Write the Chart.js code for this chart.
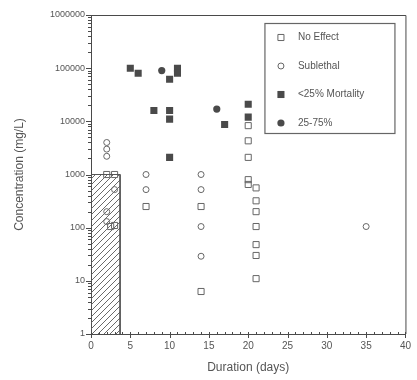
<!DOCTYPE html>
<html>
<head>
<meta charset="utf-8">
<script src="https://cdn.jsdelivr.net/npm/chart.js@4.4.0/dist/chart.umd.min.js"></script>
<style>
  html, body { margin: 0; padding: 0; background: #fff; }
  canvas { display: block; }
</style>
</head>
<body>
<canvas id="myChart" width="417" height="380"></canvas>
<script>
// series values (duration in days, concentration in mg/L)
const noEffectDays = [2, 3, 2.5, 3, 7, 14, 14, 20, 20, 20, 20, 20, 21, 21, 21, 21, 21, 21, 21];
const noEffectConc = [1000, 1000, 105, 110, 250, 250, 6.3, 8300, 4300, 2100, 800, 650, 560, 320, 200, 105, 48, 30, 11];

const sublethalDays = [2, 2, 2, 2, 2, 3, 7, 7, 14, 14, 14, 14, 35];
const sublethalConc = [4000, 3000, 2200, 200, 130, 520, 1000, 520, 1000, 520, 105, 29, 105];

const mort25Days = [5, 6, 10, 11, 11, 8, 10, 10, 10, 17, 20, 20];
const mort25Conc = [100000, 80000, 62000, 100000, 80000, 16000, 16000, 11000, 2100, 8700, 21000, 12000];

const mort75Days = [9, 16];
const mort75Conc = [90000, 17000];

// hatched block in the lower left corner
const hatchDays = [0, 0, 3.7, 3.7];
const hatchConc = [1, 1000, 1000, 1];

const seriesNames = ['No Effect', 'Sublethal', '<25% Mortality', '25-75%'];
const xTicks = [0, 5, 10, 15, 20, 25, 30, 35, 40];
const yTicks = [1, 10, 100, 1000, 10000, 100000, 1000000];

const toPoints = (days, conc) => days.map((d, i) => ({ x: d, y: conc[i] }));

const ink = '#4a4a4a';
const textInk = '#555';

// diagonal hatch pattern
const hatchCanvas = document.createElement('canvas');
hatchCanvas.width = 6;
hatchCanvas.height = 6;
const hctx = hatchCanvas.getContext('2d');
hctx.strokeStyle = '#6a6a6a';
hctx.lineWidth = 1;
hctx.beginPath();
hctx.moveTo(0, 6); hctx.lineTo(6, 0);
hctx.moveTo(-1, 1); hctx.lineTo(1, -1);
hctx.moveTo(5, 7); hctx.lineTo(7, 5);
hctx.stroke();
const hatchPattern = hctx.createPattern(hatchCanvas, 'repeat');

function drawMarker(ctx, style, filled, x, y, r) {
  ctx.beginPath();
  if (style === 'rect') {
    const s = r * Math.SQRT1_2;
    ctx.rect(x - s, y - s, 2 * s, 2 * s);
  } else {
    ctx.arc(x, y, r, 0, Math.PI * 2);
  }
  if (filled) {
    ctx.fillStyle = ink;
    ctx.fill();
  } else {
    ctx.fillStyle = '#fff';
    ctx.fill();
    ctx.strokeStyle = '#666';
    ctx.lineWidth = 1;
    ctx.stroke();
  }
}

// frame, tick marks and legend box
const decorations = {
  id: 'decorations',
  afterDraw(chart) {
    const { ctx, chartArea } = chart;
    const xs = chart.scales.x;
    const ys = chart.scales.y;
    ctx.save();
    ctx.strokeStyle = ink;
    ctx.lineWidth = 1;

    // top and right border
    ctx.beginPath();
    ctx.moveTo(chartArea.left, chartArea.top + 0.5);
    ctx.lineTo(chartArea.right + 0.5, chartArea.top + 0.5);
    ctx.lineTo(chartArea.right + 0.5, chartArea.bottom);
    ctx.stroke();

    // x ticks: major every 5 days, minor every day
    ctx.beginPath();
    for (let d = 0; d <= 40; d++) {
      const px = Math.round(xs.getPixelForValue(d)) + 0.5;
      if (d % 5 === 0) {
        ctx.moveTo(px, chartArea.bottom - 2);
        ctx.lineTo(px, chartArea.bottom + 4);
      } else {
        ctx.moveTo(px, chartArea.bottom - 2);
        ctx.lineTo(px, chartArea.bottom + 1);
      }
    }
    // y ticks: major at decades, minor at 2..9
    for (let e = 0; e < 6; e++) {
      for (let m = 1; m <= 9; m++) {
        const py = Math.round(ys.getPixelForValue(m * Math.pow(10, e))) + 0.5;
        const len = m === 1 ? 5 : 3;
        ctx.moveTo(chartArea.left - len, py);
        ctx.lineTo(chartArea.left + 1, py);
      }
    }
    const topPx = Math.round(ys.getPixelForValue(1000000)) + 0.5;
    ctx.moveTo(chartArea.left - 5, topPx);
    ctx.lineTo(chartArea.left, topPx);
    ctx.stroke();

    // legend
    const bx = chartArea.right - 140.5;
    const by = chartArea.top + 8.5;
    ctx.strokeStyle = '#666';
    ctx.lineWidth = 1.2;
    ctx.strokeRect(bx, by, 130, 110);
    ctx.font = '10px "Liberation Sans", Arial, sans-serif';
    ctx.textBaseline = 'middle';
    ctx.textAlign = 'left';
    chart.data.datasets.slice(1).forEach((ds, i) => {
      const ry = by + 14 + i * 28.5;
      drawMarker(ctx, ds.pointStyle, ds.filledMarker, bx + 16, ry, ds.pointRadius);
      ctx.fillStyle = textInk;
      ctx.fillText(ds.label, bx + 33, ry);
    });
    ctx.restore();
  }
};

const ctx = document.getElementById('myChart');
new Chart(ctx, {
  type: 'scatter',
  data: {
    datasets: [
      {
        label: 'hatch',
        data: toPoints(hatchDays, hatchConc),
        showLine: true,
        fill: 'start',
        backgroundColor: hatchPattern,
        borderColor: '#555',
        borderWidth: 1,
        pointRadius: 0,
        tension: 0,
      },
      {
        label: seriesNames[0],
        data: toPoints(noEffectDays, noEffectConc),
        pointStyle: 'rect',
        pointRadius: 4.3,
        backgroundColor: 'rgba(255,255,255,0)',
        borderColor: '#666',
        borderWidth: 1,
        filledMarker: false,
      },
      {
        label: seriesNames[1],
        data: toPoints(sublethalDays, sublethalConc),
        pointStyle: 'circle',
        pointRadius: 3,
        backgroundColor: 'rgba(255,255,255,0)',
        borderColor: '#666',
        borderWidth: 1,
        filledMarker: false,
      },
      {
        label: seriesNames[2],
        data: toPoints(mort25Days, mort25Conc),
        pointStyle: 'rect',
        pointRadius: 5,
        backgroundColor: ink,
        borderColor: ink,
        borderWidth: 0,
        filledMarker: true,
      },
      {
        label: seriesNames[3],
        data: toPoints(mort75Days, mort75Conc),
        pointStyle: 'circle',
        pointRadius: 3.6,
        backgroundColor: ink,
        borderColor: ink,
        borderWidth: 0,
        filledMarker: true,
      },
    ],
  },
  options: {
    responsive: false,
    animation: false,
    layout: { padding: { top: 15, right: 10, left: 0, bottom: 0 }, autoPadding: false },
    plugins: {
      legend: { display: false },
      tooltip: { enabled: false },
    },
    scales: {
      x: {
        type: 'linear',
        min: 0,
        max: 40,
        afterBuildTicks: (scale) => { scale.ticks = xTicks.map((v) => ({ value: v })); },
        afterFit: (scale) => { scale.height = 46; },
        grid: { display: true, drawOnChartArea: false, drawTicks: false },
        border: { display: true, color: ink, width: 1 },
        ticks: {
          padding: 6,
          color: textInk,
          font: { family: '"Liberation Sans", Arial, sans-serif', size: 10 },
          maxRotation: 0,
          autoSkip: false,
        },
        title: {
          display: true,
          text: 'Duration (days)',
          color: textInk,
          font: { family: '"Liberation Sans", Arial, sans-serif', size: 12 },
          padding: { top: 0, bottom: 5 },
        },
      },
      y: {
        type: 'logarithmic',
        min: 1,
        max: 1000000,
        afterBuildTicks: (scale) => { scale.ticks = yTicks.map((v) => ({ value: v })); },
        afterFit: (scale) => { scale.width = 91; },
        grid: { display: true, drawOnChartArea: false, drawTicks: false },
        border: { display: true, color: ink, width: 1 },
        ticks: {
          padding: 6,
          color: textInk,
          font: { family: '"Liberation Sans", Arial, sans-serif', size: 9 },
          autoSkip: false,
          callback: (value) => String(value),
        },
        title: {
          display: true,
          text: 'Concentration (mg/L)',
          color: textInk,
          font: { family: '"Liberation Sans", Arial, sans-serif', size: 12 },
          padding: { top: 12, bottom: 0 },
        },
      },
    },
  },
  plugins: [decorations],
});
</script>
</body>
</html>
